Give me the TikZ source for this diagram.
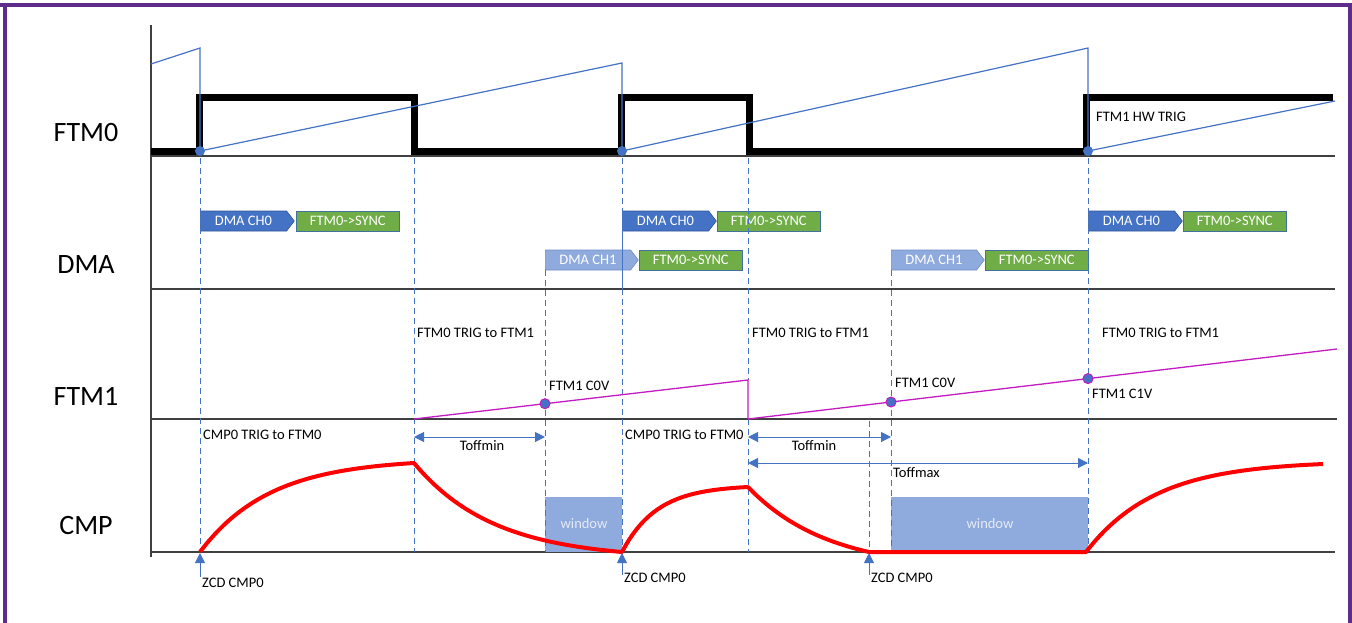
\documentclass[tikz,border=0pt]{standalone}
\usepackage{fontspec}
\setmainfont{Carlito}
\usetikzlibrary{shapes.symbols,arrows.meta}
\definecolor{tblue}{HTML}{4472C4}
\definecolor{tblueb}{HTML}{2F5597}
\definecolor{lblue}{HTML}{8FAADC}
\definecolor{lblueb}{HTML}{6F8FC9}
\definecolor{tgreen}{HTML}{70AD47}
\definecolor{tgreenb}{HTML}{41719C}
\definecolor{winblue}{HTML}{8FAADC}
\definecolor{wintext}{HTML}{E4EBF7}
\definecolor{tmag}{HTML}{C21BC2}
\definecolor{tpurple}{HTML}{5E2D8C}
\definecolor{sepgray}{HTML}{404040}
\definecolor{tred}{HTML}{FF0000}
\tikzset{
  sepline/.style={draw=sepgray, line width=1.5},
  guide/.style={draw=tblue, line width=1, dash pattern=on 6pt off 4pt},
  saw/.style={draw=tblue, line width=1.2, line join=miter},
  sqwave/.style={draw=black, line width=7, line join=miter},
  bigl/.style={font=\fontsize{28}{30}\selectfont, text=black, inner sep=0},
  sm/.style={font=\fontsize{14.5}{16}\selectfont, inner sep=0, anchor=west, text=black},
  boxtext/.style={font=\fontsize{14.5}{16}\selectfont, text=white, inner sep=0, minimum height=20pt, anchor=west},
  chzero/.style={boxtext, signal, signal to=east, signal pointer angle=105, fill=tblue, draw=tblueb, line width=0.6, minimum width=94pt},
  chone/.style={boxtext, signal, signal to=east, signal pointer angle=105, fill=lblue, draw=lblueb, line width=0.6, minimum width=93pt},
  grn/.style={boxtext, rectangle, fill=tgreen, draw=tgreenb, line width=0.6, minimum width=103pt},
  tdot/.style={circle, fill=tblue, minimum size=10pt, inner sep=0},
  mdot/.style={circle, fill=tblue, draw=tmag, line width=1, minimum size=10pt, inner sep=0},
  magline/.style={draw=tmag, line width=1.3},
  redc/.style={draw=tred, line width=4, line join=round},
  wintxt/.style={font=\fontsize{14.5}{16}\selectfont, text=wintext, inner sep=0},
  dimarrow/.style={draw=tblue, line width=1, {Triangle[length=10pt,width=10pt]}-{Triangle[length=10pt,width=10pt]}},
  zcd/.style={draw=tblue, line width=1, -{Triangle[length=10pt,width=10pt]}},
}
\begin{document}
\begin{tikzpicture}[x=1pt,y=-1pt]
\useasboundingbox (0,0) rectangle (1352,622);
% frame
\draw[tpurple, line width=4] (0,5) -- (1349.5,5) -- (1349.5,640);
\draw[tpurple, line width=4] (4.5,5) -- (4.5,640);

% axes and separators
\draw[sepline] (151,25) -- (151,557);
\draw[sepline] (151,156) -- (1335,156);
\draw[sepline] (151,289) -- (1335,289);
\draw[sepline] (151,419) -- (1337,419);
\draw[sepline] (151,552) -- (1335,552);

% row labels
\node[bigl] (lftmz) at (86,133) {FTM0};
\node[bigl] (ldma)  at (86,265) {DMA};
\node[bigl] (lftmo) at (86,396) {FTM1};
\node[bigl] (lcmp)  at (86,526) {CMP};

% windows
\fill[winblue] (545,497) rectangle (622,552);
\node[wintxt] (w1) at (584,524) {window};
\fill[winblue] (891,497) rectangle (1088,552);
\node[wintxt] (w2) at (990,524) {window};

% DMA boxes
\node[chzero] (a1) at (200,221) {DMA CH0};
\node[grn]    (g1) at (296,221) {FTM0->SYNC};
\node[chzero] (a2) at (622,221) {DMA CH0};
\node[grn]    (g2) at (717,221) {FTM0->SYNC};
\node[chzero] (a3) at (1088,221) {DMA CH0};
\node[grn]    (g3) at (1183,221) {FTM0->SYNC};
\node[chone]  (b1) at (545,260) {DMA CH1};
\node[grn]    (h1) at (639,260) {FTM0->SYNC};
\node[chone]  (b2) at (891,260) {DMA CH1};
\node[grn]    (h2) at (985,260) {FTM0->SYNC};

% guide lines
\draw[guide] (200,158) -- (200,552);
\draw[guide] (414,158) -- (414,552);
\draw[guide] (545,270) -- (545,552);
\draw[guide] (622,158) -- (622,211);
\draw[tblue, line width=1] (622,211) -- (622,289);
\draw[guide] (622,289) -- (622,552);
\draw[guide] (748,158) -- (748,380);
\draw[guide] (748,419) -- (748,552);
\draw[guide] (869,421) -- (869,552);
\draw[guide] (891,270) -- (891,552);
\draw[guide] (1088,158) -- (1088,552);

% FTM0 square wave and counter
\draw[sqwave] (151,151) -- (199,151) -- (199,97) -- (414,97) -- (414,151)
  -- (621,151) -- (621,97) -- (749,97) -- (749,151) -- (1086,151) -- (1086,97) -- (1333,97);
\draw[saw] (151,64) -- (200,48) -- (200,151) -- (622,63) -- (622,151) -- (1088,48) -- (1088,151) -- (1335,101);
\node[tdot] (t1) at (200,151) {};
\node[tdot] (t2) at (622,151) {};
\node[tdot] (t3) at (1088,151) {};
\node[sm] (hw) at (1096,117) {FTM1 HW TRIG};

% FTM1 counter
\draw[magline] (414,419) -- (748,380) -- (748,419) -- (1337,349);
\node[mdot] (m1) at (545,403.7) {};
\node[mdot] (m2) at (891,402) {};
\node[mdot] (m3) at (1088,378.6) {};
\node[sm] (tr1) at (417,333) {FTM0 TRIG to FTM1};
\node[sm] (tr2) at (752,333) {FTM0 TRIG to FTM1};
\node[sm] (tr3) at (1102,333) {FTM0 TRIG to FTM1};
\node[sm] (c0a) at (549,386) {FTM1 C0V};
\node[sm] (c0b) at (895,383) {FTM1 C0V};
\node[sm] (c1) at (1092,394) {FTM1 C1V};

% CMP
\draw[redc] plot[domain=200:414, samples=70] (\x, {552 - 89*(1-exp(-(\x-200)/70))/(1-exp(-214/70))})
  -- plot[domain=414:622, samples=70] (\x, {552 - 89*(exp(-(\x-414)/80)-exp(-208/80))/(1-exp(-208/80))})
  -- plot[domain=622:748, samples=50] (\x, {552 - 65*(1-exp(-(\x-622)/35))/(1-exp(-126/35))})
  -- plot[domain=748:869, samples=50] (\x, {552 - 65*(exp(-(\x-748)/80)-exp(-121/80))/(1-exp(-121/80))})
  -- (1086,552)
  -- plot[domain=1086:1323, samples=70] (\x, {552 - 88*(1-exp(-(\x-1086)/70))/(1-exp(-237/70))});

\coordinate (d1l) at (414,437);
\coordinate (d1r) at (545,437);
\coordinate (d2l) at (748,437);
\coordinate (d2r) at (891,437);
\coordinate (d3l) at (748,463);
\coordinate (d3r) at (1088,463);
\draw[dimarrow] (d1l) -- (d1r);
\draw[dimarrow] (d2l) -- (d2r);
\draw[dimarrow] (d3l) -- (d3r);
\node[font=\fontsize{14.5}{16}\selectfont, inner sep=0] (tm1) at (482,446) {Toffmin};
\node[font=\fontsize{14.5}{16}\selectfont, inner sep=0] (tm2) at (814,446) {Toffmin};
\node[sm] (tmx) at (893,473) {Toffmax};
\node[sm] (ct1) at (203,435) {CMP0 TRIG to FTM0};
\node[sm] (ct2) at (625,435) {CMP0 TRIG to FTM0};

\coordinate (z1b) at (200,577);
\coordinate (z1t) at (200,553);
\coordinate (z2b) at (622,575);
\coordinate (z2t) at (622,553);
\coordinate (z3b) at (869,575);
\coordinate (z3t) at (869,553);
\draw[zcd] (z1b) -- (z1t);
\draw[zcd] (z2b) -- (z2t);
\draw[zcd] (z3b) -- (z3t);
\node[sm] (zc1) at (202,583) {ZCD CMP0};
\node[sm] (zc2) at (624,578) {ZCD CMP0};
\node[sm] (zc3) at (871,578) {ZCD CMP0};
\end{tikzpicture}
\end{document}
